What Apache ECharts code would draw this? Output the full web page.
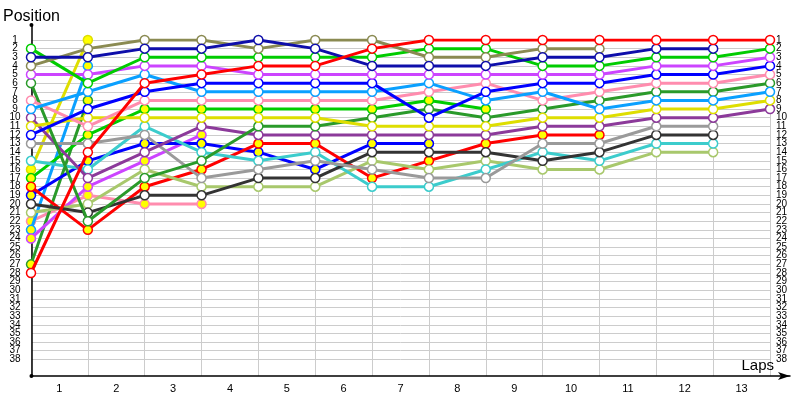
<!DOCTYPE html>
<html><head><meta charset="utf-8">
<script src="https://cdn.jsdelivr.net/npm/echarts@6/dist/echarts.min.js"></script>
<style>html,body{margin:0;padding:0;background:#fff}#c{width:800px;height:400px}</style>
</head><body><div id="c"></div>
<script>
// Tick labels
const lapLabels = ['1','2','3','4','5','6','7','8','9','10','11','12','13'];
const positionLabels = ['1','2','3','4','5','6','7','8','9','10','11','12','13','14','15','16','17','18','19','20','21','22','23','24','25','26','27','28','29','30','31','32','33','34','35','36','37','38'];

// Positions per column (start, then after each lap)
const red1    = [28,14,6,5,4,4,2,1,1,1,1,1,1,1];
const red2    = [18,23,18,16,13,13,17,15,13,12,12];
const olive   = [4,2,1,1,2,1,1,3,3,2,2];
const navy    = [3,3,2,2,1,2,4,4,4,3,3,2,2];
const green1  = [2,6,3,3,3,3,3,2,2,4,4,3,3,2];
const green2  = [17,12,9,9,9,9,9,8,9];
const violet1 = [5,5,4,4,5,5,5,5,5,5,5,4,4,3];
const violet2 = [24,18,15,12];
const blue1   = [12,9,7,6,6,6,6,10,7,6,6,5,5,4];
const blue2   = [19,15,13,13,14,16,13,13];
const ltblue1 = [9,7,5,7,7,7,7,6,8,7,9,8,8,7];
const ltblue2 = [23,4];
const pink1   = [8,11,8,8,8,8,8,7,6,8,7,6,6,5];
const pink2   = [22,19,20,20];
const yellow1 = [11,10,10,10,10,10,11,11,11,10,10,9,9,8];
const yellow2 = [16,1];
const dkgreen1= [6,22,17,15,11,11,10,9,10,9,8,7,7,6];
const dkgreen2= [27,8];
const purple  = [10,17,14,11,12,12,12,12,12,11,11,10,10,9];
const gray    = [13,13,12,17,16,15,16,17,17,13,13,11,11];
const teal    = [15,16,11,14,15,14,18,18,16,14,15,13,13];
const black   = [20,21,19,19,17,17,14,14,14,15,14,12,12];
const ltgreen = [21,20,16,18,18,18,15,16,15,16,16,14,14];

const C = {
  red:'#ff0000', olive:'#8a8a52', navy:'#0e0eaa', green:'#00cc00', violet:'#cc44ff',
  blue:'#0000ff', ltblue:'#0aa0ff', pink:'#ff8cae', yellow:'#dede00', dkgreen:'#2a9a2a',
  purple:'#8c3a9a', gray:'#9a9a9a', black:'#333333', teal:'#3ccccc', ltgreen:'#a8c86c'
};

const drivers = [
  [pink2, C.pink, true], [ltblue2, C.ltblue, true], [dkgreen2, C.dkgreen, true], [yellow2, C.yellow, true],
  [violet2, C.violet, true], [blue2, C.blue, true], [green2, C.green, true], [red2, C.red, true],
  [ltgreen, C.ltgreen, false], [teal, C.teal, false], [black, C.black, false], [gray, C.gray, false],
  [purple, C.purple, false], [dkgreen1, C.dkgreen, false], [yellow1, C.yellow, false], [pink1, C.pink, false],
  [ltblue1, C.ltblue, false], [blue1, C.blue, false], [violet1, C.violet, false], [green1, C.green, false],
  [olive, C.olive, false], [navy, C.navy, false], [red1, C.red, false]
];

const FONT = '"Liberation Sans", Arial, sans-serif';

const series = drivers.map(([pos, color, second], k) => ({
  type: 'line', xAxisIndex: 1, yAxisIndex: 1,
  data: pos.map((p, i) => [i, String(p)]),
  symbol: 'circle', symbolSize: 9, showAllSymbol: true,
  lineStyle: { color: color, width: 3 },
  itemStyle: { color: second ? '#ffff00' : '#ffffff', borderColor: color, borderWidth: 1.5 },
  emphasis: { disabled: true },
  z: 3 + k * 0.01
}));

const hidden = { axisLine: { show: false, onZero: false }, axisTick: { show: false }, axisLabel: { show: false }, splitLine: { show: false } };

const chart = echarts.init(document.getElementById('c'), null, { renderer: 'canvas' });
chart.setOption({
  animation: false,
  backgroundColor: '#ffffff',
  grid: [
    { left: 31, right: 10, top: 25, bottom: 24 },     // axis lines + names
    { left: 31, right: 30, top: 40, bottom: 40.7 },   // data + horizontal lines + position labels
    { left: 31, right: 30, top: 40, bottom: 24 }      // vertical lines + lap labels
  ],
  xAxis: [
    { gridIndex: 0, type: 'value', min: 0, max: 1, position: 'bottom',
      axisLine: { show: true, onZero: false, symbol: ['none', 'arrow'], symbolSize: [6, 12], lineStyle: { color: '#000', width: 1.5 } },
      axisTick: { show: false }, axisLabel: { show: false }, splitLine: { show: false },
      name: 'Laps', nameLocation: 'end', nameGap: -16,
      nameTextStyle: { fontFamily: FONT, fontSize: 15, color: '#000', align: 'right', verticalAlign: 'bottom', padding: [0, 0, 3, 0] } },
    Object.assign({ gridIndex: 1, type: 'value', min: 0, max: 13, position: 'bottom' }, hidden),
    { gridIndex: 2, type: 'value', min: 0, max: 13, interval: 1, position: 'bottom',
      axisLine: { show: false, onZero: false }, axisTick: { show: false }, axisLabel: { show: false },
      splitLine: { show: true, lineStyle: { color: '#cccccc', width: 1 } } },
    { gridIndex: 2, type: 'value', min: 0, max: 13, interval: 0.5, position: 'bottom',
      axisLine: { show: false, onZero: false }, axisTick: { show: false }, splitLine: { show: false },
      axisLabel: { show: true, margin: 7, fontFamily: FONT, fontSize: 11, color: '#000',
        formatter: v => (Math.abs((v % 1) - 0.5) < 1e-6 ? lapLabels[Math.floor(v)] : '') } }
  ],
  yAxis: [
    { gridIndex: 0, type: 'value', min: 0, max: 1, position: 'left',
      axisLine: { show: true, onZero: false, symbol: ['circle', 'circle'], symbolSize: [4, 4], lineStyle: { color: '#000', width: 1.5 } },
      axisTick: { show: false }, axisLabel: { show: false }, splitLine: { show: false },
      name: 'Position', nameLocation: 'end', nameGap: 0,
      nameTextStyle: { fontFamily: FONT, fontSize: 16, color: '#000' } },
    { gridIndex: 1, type: 'category', data: positionLabels, inverse: true, boundaryGap: false, position: 'left',
      axisLine: { show: false, onZero: false }, axisTick: { show: false },
      splitLine: { show: true, interval: 0, lineStyle: { color: '#cccccc', width: 1 } },
      axisLabel: { show: true, interval: 0, align: 'center', margin: 16, fontFamily: FONT, fontSize: 10, color: '#000' } },
    { gridIndex: 1, type: 'category', data: positionLabels, inverse: true, boundaryGap: false, position: 'right',
      axisLine: { show: false, onZero: false }, axisTick: { show: false }, splitLine: { show: false },
      axisLabel: { show: true, interval: 0, align: 'left', margin: 6, fontFamily: FONT, fontSize: 10, color: '#000' } },
    Object.assign({ gridIndex: 2, type: 'value', min: 0, max: 1 }, hidden)
  ],
  series: series
});
</script>
</body></html>
